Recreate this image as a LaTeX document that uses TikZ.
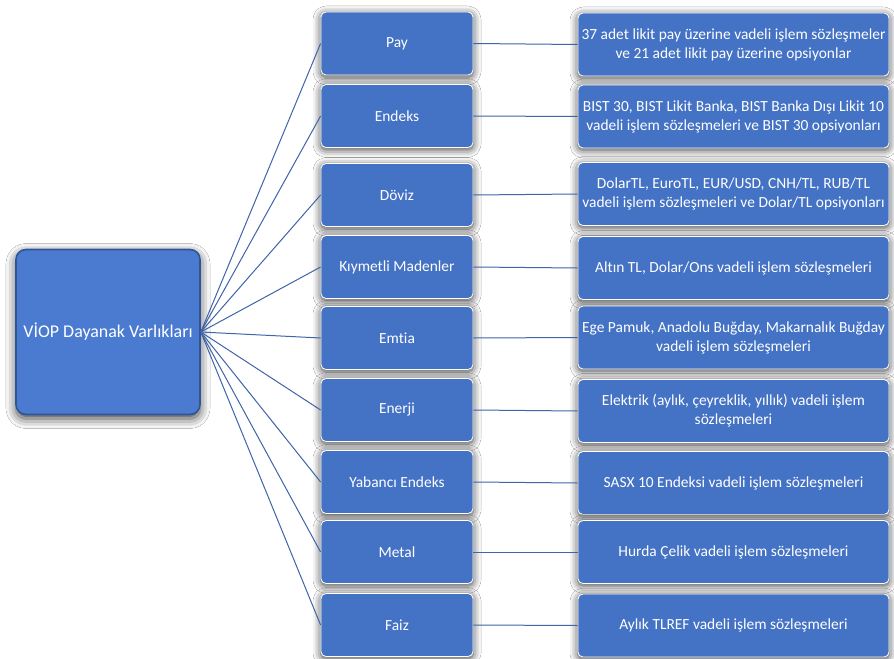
\documentclass[tikz,border=0pt]{standalone}
\usepackage{fontspec}
\setmainfont{Carlito}[Ligatures=NoCommon]
\usetikzlibrary{shadows.blur}
\definecolor{boxblue}{HTML}{4472C4}
\definecolor{rootblue}{HTML}{4A7BD0}
\definecolor{rootedge}{HTML}{2F5597}
\definecolor{linkblue}{HTML}{3F64A8}

\begin{document}
\begin{tikzpicture}[
        x=1bp,
        y=-1bp,
        every node/.style={font=\fontsize{15.5}{19}\selectfont, text=white, align=center},
        root/.style={
            rectangle,
            rounded corners=10bp,
            fill=rootblue,
            draw=rootedge,
            line width=1.6bp,
            minimum width=184bp,
            minimum height=165bp,
            font=\fontsize{18}{21}\selectfont,
            blur shadow={shadow xshift=0bp, shadow yshift=-4bp, shadow blur radius=10bp, shadow opacity=75}
        },
        asset/.style={
            rectangle,
            rounded corners=5bp,
            fill=boxblue,
            draw=white,
            line width=0.8bp,
            minimum width=152bp,
            minimum height=63bp,
            inner sep=2bp,
            blur shadow={shadow xshift=0bp, shadow yshift=-2bp, shadow blur radius=8bp, shadow opacity=80}
        },
        detail/.style={asset, minimum width=311bp},
        link/.style={draw=linkblue, line width=1bp}
    ]
    \useasboundingbox[fill=white] (0,0) rectangle (894,659);

    % Root
    \node[root] (viop) at (108,332) {VİOP Dayanak Varlıkları};

    % Asset classes
    \node[asset] (pay) at (397,43.5) {Pay};
    \node[asset] (endeks) at (397,116) {Endeks};
    \node[asset] (doviz) at (397,195) {Döviz};
    \node[asset] (maden) at (397,267) {Kıymetli Madenler};
    \node[asset] (emtia) at (397,338) {Emtia};
    \node[asset] (enerji) at (397,410) {Enerji};
    \node[asset] (yabanci) at (397,482) {Yabancı Endeks};
    \node[asset] (metal) at (397,552) {Metal};
    \node[asset] (faiz) at (397,625) {Faiz};

    % Contracts
    \node[detail] (payx) at (733.5,44.5) {37 adet likit pay üzerine vadeli işlem sözleşmeler\\ve 21 adet likit pay üzerine opsiyonlar};
    \node[detail] (endeksx) at (733.5,116.5) {BIST 30, BIST Likit Banka, BIST Banka Dışı Likit 10\\vadeli işlem sözleşmeleri ve BIST 30 opsiyonları};
    \node[detail] (dovizx) at (733.5,194) {DolarTL, EuroTL, EUR/USD, CNH/TL, RUB/TL\\vadeli işlem sözleşmeleri ve Dolar/TL opsiyonları};
    \node[detail] (madenx) at (733.5,268) {Altın TL, Dolar/Ons vadeli işlem sözleşmeleri};
    \node[detail] (emtiax) at (733.5,337.5) {Ege Pamuk, Anadolu Buğday, Makarnalık Buğday\\vadeli işlem sözleşmeleri};
    \node[detail] (enerjix) at (733.5,411) {Elektrik (aylık, çeyreklik, yıllık) vadeli işlem\\sözleşmeleri};
    \node[detail] (yabancix) at (733.5,483) {SASX 10 Endeksi vadeli işlem sözleşmeleri};
    \node[detail] (metalx) at (733.5,552) {Hurda Çelik vadeli işlem sözleşmeleri};
    \node[detail] (faizx) at (733.5,625.5) {Aylık TLREF vadeli işlem sözleşmeleri};

    % Root to asset classes
    \draw[link] (viop.east) -- (pay.west);
    \draw[link] (viop.east) -- (endeks.west);
    \draw[link] (viop.east) -- (doviz.west);
    \draw[link] (viop.east) -- (maden.west);
    \draw[link] (viop.east) -- (emtia.west);
    \draw[link] (viop.east) -- (enerji.west);
    \draw[link] (viop.east) -- (yabanci.west);
    \draw[link] (viop.east) -- (metal.west);
    \draw[link] (viop.east) -- (faiz.west);

    % Asset classes to contracts
    \draw[link] (pay.east) -- (payx.west);
    \draw[link] (endeks.east) -- (endeksx.west);
    \draw[link] (doviz.east) -- (dovizx.west);
    \draw[link] (maden.east) -- (madenx.west);
    \draw[link] (emtia.east) -- (emtiax.west);
    \draw[link] (enerji.east) -- (enerjix.west);
    \draw[link] (yabanci.east) -- (yabancix.west);
    \draw[link] (metal.east) -- (metalx.west);
    \draw[link] (faiz.east) -- (faizx.west);

\end{tikzpicture}
\end{document}
